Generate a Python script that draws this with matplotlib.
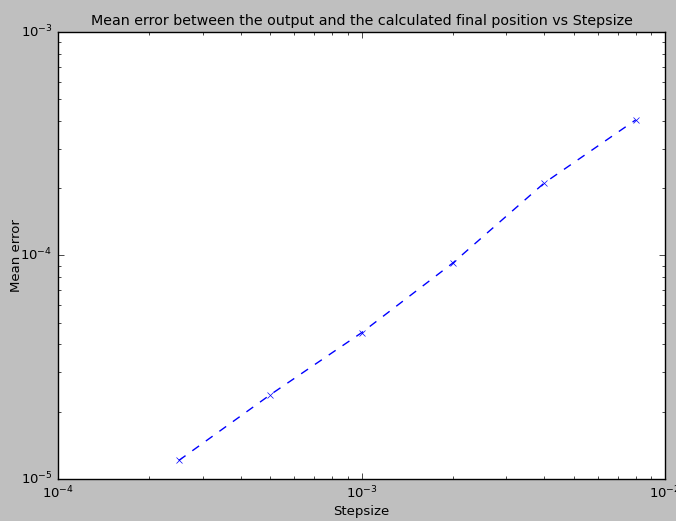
import matplotlib
matplotlib.use("Agg")
import matplotlib.pyplot as plt

plt.style.use('classic')

stepsize = [0.00025, 0.0005, 0.001, 0.002, 0.004, 0.008]
mean_error = [1.21e-5, 2.38e-5, 4.51e-5, 9.26e-5, 2.11e-4, 4.04e-4]

fig = plt.figure(figsize=(6.76, 5.21), dpi=100)
fig.patch.set_facecolor('#bfbfbf')
ax = fig.add_axes([58/676, 1 - 479/521, (665-58)/676, (479-32)/521])
ax.loglog(stepsize, mean_error, 'b--x', markersize=4, linewidth=1)
ax.set_xlim(1e-4, 1e-2)
ax.set_ylim(1e-5, 1e-3)
ax.set_xlabel('Stepsize', fontsize=9.5)
ax.set_ylabel('Mean error', fontsize=9.5)
ax.xaxis.set_label_coords(0.5, -0.058)
ax.yaxis.set_label_coords(-0.058, 0.5)
ax.set_title('Mean error between the output and the calculated final position vs Stepsize', fontsize=10.3)
ax.tick_params(labelsize=9.5)
fig.savefig('out.png', dpi=100, facecolor=fig.get_facecolor())
